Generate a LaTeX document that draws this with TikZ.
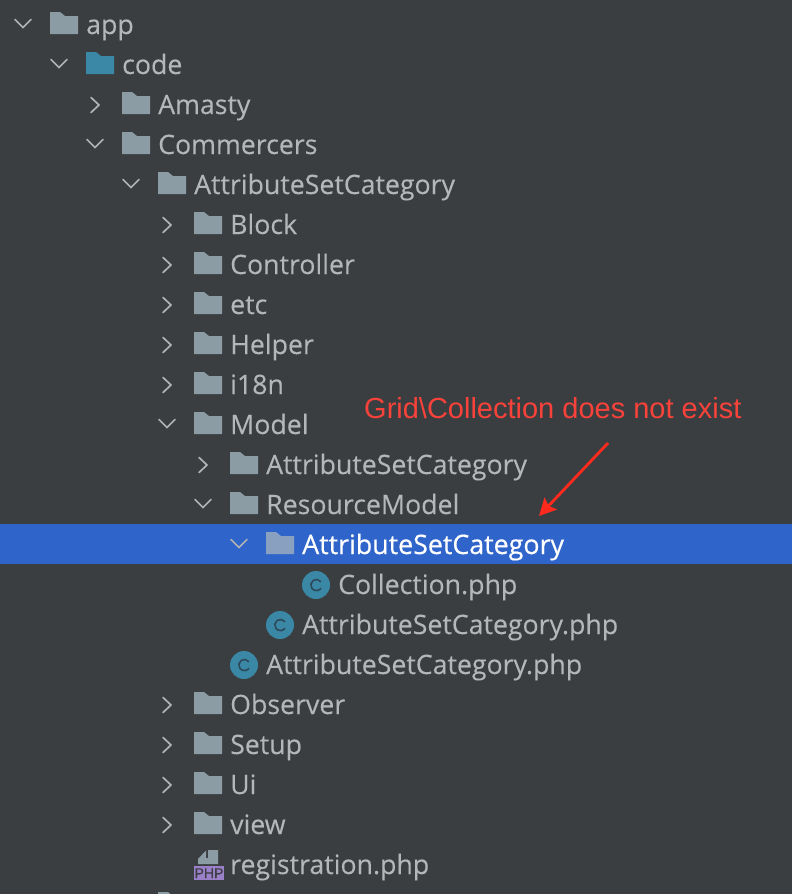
\documentclass[tikz,border=0pt]{standalone}
\usepackage{fontspec}
\setmainfont{Open Sans}[FakeBold=0.15]
\newfontfamily\whitefont{Open Sans}[FakeBold=0.45]
\newfontfamily\notefont{Liberation Sans}
\newfontfamily\phpfont{Liberation Sans}[FakeBold=0.6]
\usetikzlibrary{arrows.meta}
\definecolor{bgc}{HTML}{3B3E41}
\definecolor{txtc}{HTML}{B4B6B7}
\definecolor{foldc}{HTML}{8C9CA5}
\definecolor{bluec}{HTML}{3A87A6}
\definecolor{hlc}{HTML}{2F65CA}
\definecolor{hlfold}{HTML}{8AA0C0}
\definecolor{redt}{HTML}{F8423A}
\definecolor{reda}{HTML}{FF2A1E}
\definecolor{chevc}{HTML}{B0B2B3}
\definecolor{cglyph}{HTML}{2C4A5A}
\definecolor{purp}{HTML}{9A7FC9}
\tikzset{
  x=1pt,y=-1pt,
  rowtext/.style={anchor=base west,inner sep=0pt,text=txtc,font=\fontsize{26.7}{30}\selectfont},
  chevline/.style={draw=chevc,line width=1.7pt,line cap=round,line join=miter},
  foldericon/.pic={\fill[fill=#1] (-14,-11) -- (-4,-11) -- (1,-7) -- (14,-7) -- (14,11) -- (-14,11) -- cycle;},
  chevdown/.pic={\draw[chevline] (-8,-4.5) -- (0,3.5) -- (8,-4.5);},
  chevright/.pic={\draw[chevline] (-4,-7.5) -- (4,0) -- (-4,7.5);},
  classicon/.pic={\fill[bluec] (0,0) circle[radius=14];
    \draw[cglyph,line width=1.6pt] (5,-3.2) arc[start angle=-35,end angle=-325,radius=5.6];},
}
\newcommand{\treeline}[5]{% name, level, row, kind, text
  \pgfmathsetmacro{\xc}{64+36*#2}
  \pgfmathsetmacro{\yc}{23+40*#3}
  \pgfmathsetmacro{\xt}{86+36*#2}
  \pgfmathsetmacro{\yb}{34+40*#3}
  \pgfmathsetmacro{\xv}{23+36*#2}
  \ifnum#4=1 \pic at (\xv,\yc+1) {chevdown}; \pic at (\xc,\yc) {foldericon=foldc}; \fi
  \ifnum#4=2 \pic at (\xv,\yc+2) {chevright}; \pic at (\xc,\yc) {foldericon=foldc}; \fi
  \ifnum#4=3 \pic at (\xc,\yc+2) {classicon}; \fi
  \node[rowtext] (#1) at (\xt,\yb) {#5};
}
\begin{document}
\begin{tikzpicture}
\useasboundingbox (0,0) rectangle (792,894);
\fill[bgc] (0,0) rectangle (792,894);
\fill[hlc] (0,524) rectangle (792,564);
\treeline{r0}{0}{0}{1}{app}
\pic at (23+36,23+40+1) {chevdown};
\pic at (64+36,23+40) {foldericon=bluec};
\node[rowtext] (r1) at (122,74) {code};
\treeline{r2}{2}{2}{2}{Amasty}
\treeline{r3}{2}{3}{1}{Commercers}
\treeline{r4}{3}{4}{1}{AttributeSetCategory}
\treeline{r5}{4}{5}{2}{Block}
\treeline{r6}{4}{6}{2}{Controller}
\treeline{r7}{4}{7}{2}{etc}
\treeline{r8}{4}{8}{2}{Helper}
\treeline{r9}{4}{9}{2}{i18n}
\treeline{r10}{4}{10}{1}{Model}
\treeline{r11}{5}{11}{2}{AttributeSetCategory}
\treeline{r12}{5}{12}{1}{ResourceModel}
\pic at (23+36*6,23+40*13+1) {chevdown};
\pic at (64+36*6,23+40*13) {foldericon=hlfold};
\node[rowtext,text=white,font=\whitefont\fontsize{26.8}{30}\selectfont] (r13) at (302,554) {AttributeSetCategory};
\treeline{r14}{7}{14}{3}{Collection.php}
\treeline{r15}{6}{15}{3}{AttributeSetCategory.php}
\treeline{r16}{5}{16}{3}{AttributeSetCategory.php}
\treeline{r17}{4}{17}{2}{Observer}
\treeline{r18}{4}{18}{2}{Setup}
\treeline{r19}{4}{19}{2}{Ui}
\treeline{r20}{4}{20}{2}{view}
\node[rowtext] (r21) at (230,874) {registration.php};
% php file icon
\fill[foldc] (198,864) -- (198,859) -- (206,850.5) -- (206,858) -- (208,858) -- (208,850) -- (218,850) -- (218,864) -- cycle;
\fill[purp] (194,866) rectangle (224,880);
\node[inner sep=0pt,text=bgc,font=\phpfont\fontsize{14}{14}\selectfont,anchor=base] (phpicon) at (209,878) {PHP};
% partial next row at lower edge
\begin{scope}
\clip (0,0) rectangle (792,894);
\pic at (64+36*3,903) {foldericon=foldc};
\end{scope}
% annotation
\node[anchor=base west,inner sep=0pt,text=redt,font=\notefont\fontsize{29}{34}\selectfont] (note) at (364,418) {Grid\textbackslash Collection does not exist};
\coordinate (astart) at (608,443);
\coordinate (aend) at (539,516);
\draw[reda,line width=2.8pt,-{Stealth[length=17pt,width=17pt,inset=3pt]}] (astart) -- (aend);
\end{tikzpicture}
\end{document}
